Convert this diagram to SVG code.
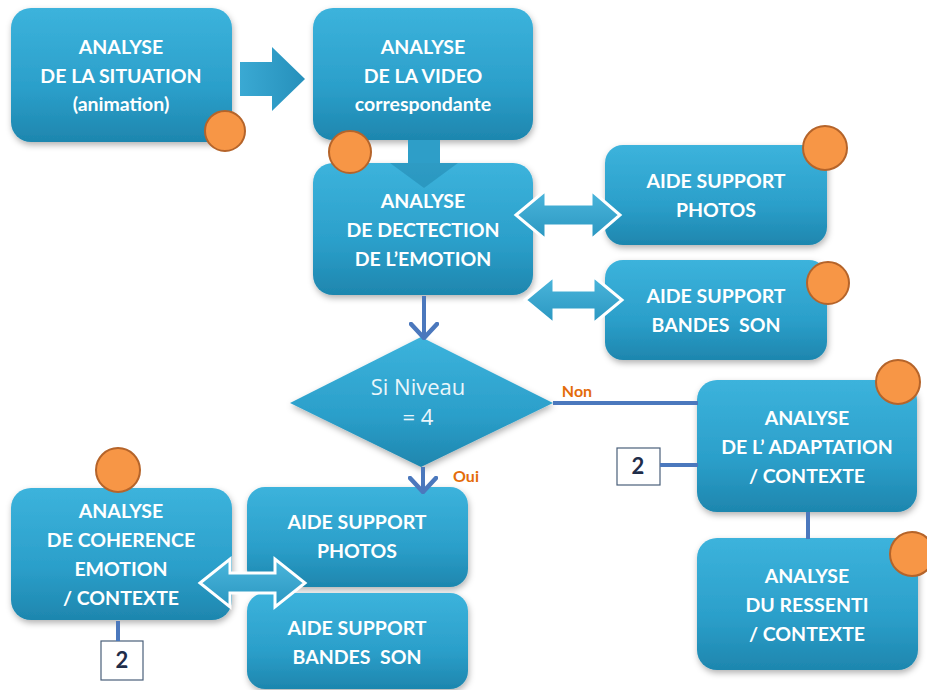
<svg xmlns="http://www.w3.org/2000/svg" width="927" height="690" viewBox="0 0 927 690">
<defs>
<linearGradient id="gb" x1="0" y1="0" x2="0" y2="1">
<stop offset="0" stop-color="#3cb3dc"/>
<stop offset="0.6" stop-color="#2b9fca"/>
<stop offset="1" stop-color="#1e86ae"/>
</linearGradient>
<linearGradient id="ga" x1="0" y1="0" x2="0" y2="1">
<stop offset="0" stop-color="#4bb6dc"/>
<stop offset="1" stop-color="#2a96c0"/>
</linearGradient>
<linearGradient id="gh" x1="0" y1="0" x2="1" y2="0">
<stop offset="0" stop-color="#3aa9d3"/>
<stop offset="1" stop-color="#2690bb"/>
</linearGradient>
<filter id="sh" x="-10%" y="-10%" width="125%" height="130%">
<feDropShadow dx="1" dy="3" stdDeviation="3" flood-color="#000" flood-opacity="0.3"/>
</filter>
<marker id="ah" viewBox="0 0 18 30" refX="16" refY="15" markerWidth="18" markerHeight="30" markerUnits="userSpaceOnUse" orient="auto">
<path d="M2,2 L16,15 L2,28" fill="none" stroke="#4b78bd" stroke-width="4.5" stroke-linecap="round" stroke-linejoin="round"/>
</marker>
<style>
.box{fill:url(#gb);filter:url(#sh)}
.t{font-family:Lato,"Open Sans","Liberation Sans",sans-serif;font-weight:bold;font-size:19.5px;fill:#fff;text-anchor:middle;white-space:pre}
.dt{font-family:"Open Sans","Liberation Sans",sans-serif;font-size:22px;fill:#eaf6fb;text-anchor:middle}
.dot{fill:#f79646;stroke:#b5642a;stroke-width:2}
.ln{stroke:#4b78bd;stroke-width:4;fill:none}
.lbl{font-family:Lato,"Liberation Sans",sans-serif;font-weight:bold;font-size:16px;fill:#e46c0a;text-anchor:middle}
.num{fill:#fff;stroke:#4a5f7a;stroke-width:1.2}
.nt{font-family:Lato,"Liberation Sans",sans-serif;font-weight:bold;font-size:22px;fill:#1f2d4a;text-anchor:middle}
.dbl{fill:url(#ga);stroke:#fff;stroke-width:3;stroke-linejoin:miter}
</style>
</defs>
<rect width="927" height="690" fill="#fff"/>

<g id="n1">
<rect x="11" y="8" width="221" height="134" rx="20" class="box"/>
<text x="121" y="54" class="t">ANALYSE</text>
<text x="121" y="83" class="t">DE LA SITUATION</text>
<text x="121" y="111" class="t">(animation)</text>
<circle cx="225" cy="131" r="20" class="dot"/>
</g>

<g id="n2">
<rect x="313" y="8" width="220" height="132" rx="20" class="box"/>
<text x="423" y="54" class="t">ANALYSE</text>
<text x="423" y="83" class="t">DE LA VIDEO</text>
<text x="423" y="111" class="t">correspondante</text>
</g>

<g id="n3">
<rect x="313" y="163" width="220" height="132" rx="20" class="box"/>
<text x="423" y="208" class="t">ANALYSE</text>
<text x="423" y="237" class="t">DE DECTECTION</text>
<text x="423" y="266" class="t">DE L’EMOTION</text>
</g>

<g id="n4">
<rect x="605" y="145" width="222" height="100" rx="18" class="box"/>
<text x="716" y="188" class="t">AIDE SUPPORT</text>
<text x="716" y="217" class="t">PHOTOS</text>
<circle cx="825" cy="148" r="22" class="dot"/>
</g>

<g id="n5">
<rect x="605" y="260" width="222" height="100" rx="18" class="box"/>
<text x="716" y="303" class="t">AIDE SUPPORT</text>
<text x="716" y="332" class="t">BANDES  SON</text>
<circle cx="828" cy="283" r="21" class="dot"/>
</g>

<g id="n6">
<path d="M421,337 L553,403 L421,467 L290,403 Z" fill="url(#gb)" filter="url(#sh)"/>
<text x="418" y="395" class="dt">Si Niveau</text>
<text x="418" y="425" class="dt">= 4</text>
</g>

<g id="n7">
<rect x="697" y="380" width="220" height="132" rx="20" class="box"/>
<text x="807" y="425" class="t">ANALYSE</text>
<text x="807" y="454" class="t">DE L’ ADAPTATION</text>
<text x="807" y="483" class="t">/ CONTEXTE</text>
<circle cx="898" cy="382" r="22" class="dot"/>
</g>

<g id="n8">
<rect x="617" y="448" width="43" height="37" class="num"/>
<text x="638" y="474" class="nt">2</text>
</g>

<g id="n9">
<rect x="697" y="538" width="221" height="132" rx="20" class="box"/>
<text x="807" y="583" class="t">ANALYSE</text>
<text x="807" y="612" class="t">DU RESSENTI</text>
<text x="807" y="641" class="t">/ CONTEXTE</text>
<circle cx="912" cy="554" r="22" class="dot"/>
</g>

<g id="n10">
<rect x="11" y="488" width="221" height="132" rx="20" class="box"/>
<text x="121" y="518" class="t">ANALYSE</text>
<text x="121" y="547" class="t">DE COHERENCE</text>
<text x="121" y="576" class="t">EMOTION</text>
<text x="121" y="605" class="t">/ CONTEXTE</text>
<circle cx="118" cy="470" r="22" class="dot"/>
</g>

<g id="n11">
<rect x="247" y="487" width="221" height="100" rx="18" class="box"/>
<text x="357" y="529" class="t">AIDE SUPPORT</text>
<text x="357" y="558" class="t">PHOTOS</text>
</g>

<g id="n12">
<rect x="247" y="593" width="221" height="96" rx="18" class="box"/>
<text x="357" y="635" class="t">AIDE SUPPORT</text>
<text x="357" y="664" class="t">BANDES  SON</text>
</g>

<g id="n13">
<rect x="101" y="641" width="42" height="39" class="num"/>
<text x="122" y="668" class="nt">2</text>
</g>

<g id="connectors">
<path d="M240,62 H272 V47 L305,79 L272,111 V96 H240 Z" fill="url(#gh)"/>
<path d="M408,140 H440 V163 H408 Z" fill="#2e9ec8"/>
<path d="M390,163 H458 L424,188 Z" fill="#1d7ea6" opacity="0.45"/>
<path d="M424,296 V338" class="ln" marker-end="url(#ah)"/>
<path d="M423,467 V492" class="ln" marker-end="url(#ah)"/>
<path d="M553,403 H698" class="ln"/>
<path d="M660,465 H698" class="ln"/>
<path d="M808,512 V539" class="ln"/>
<path d="M118,621 V641" class="ln"/>
<path d="M516,215 L546,190 V204 H591 V190 L620,215 L591,240 V226 H546 V240 Z" class="dbl"/>
<path d="M525,300 L554,276 V290 H593 V276 L622,300 L593,324 V310 H554 V324 Z" class="dbl"/>
<path d="M200,583 L230,559 V573 H275 V559 L305,583 L275,607 V593 H230 V607 Z" class="dbl"/>
<text x="577" y="397" class="lbl">Non</text>
<text x="466" y="482" class="lbl">Oui</text>
</g>

<g id="badges">
<circle cx="350" cy="152" r="21" class="dot"/>
</g>
</svg>
